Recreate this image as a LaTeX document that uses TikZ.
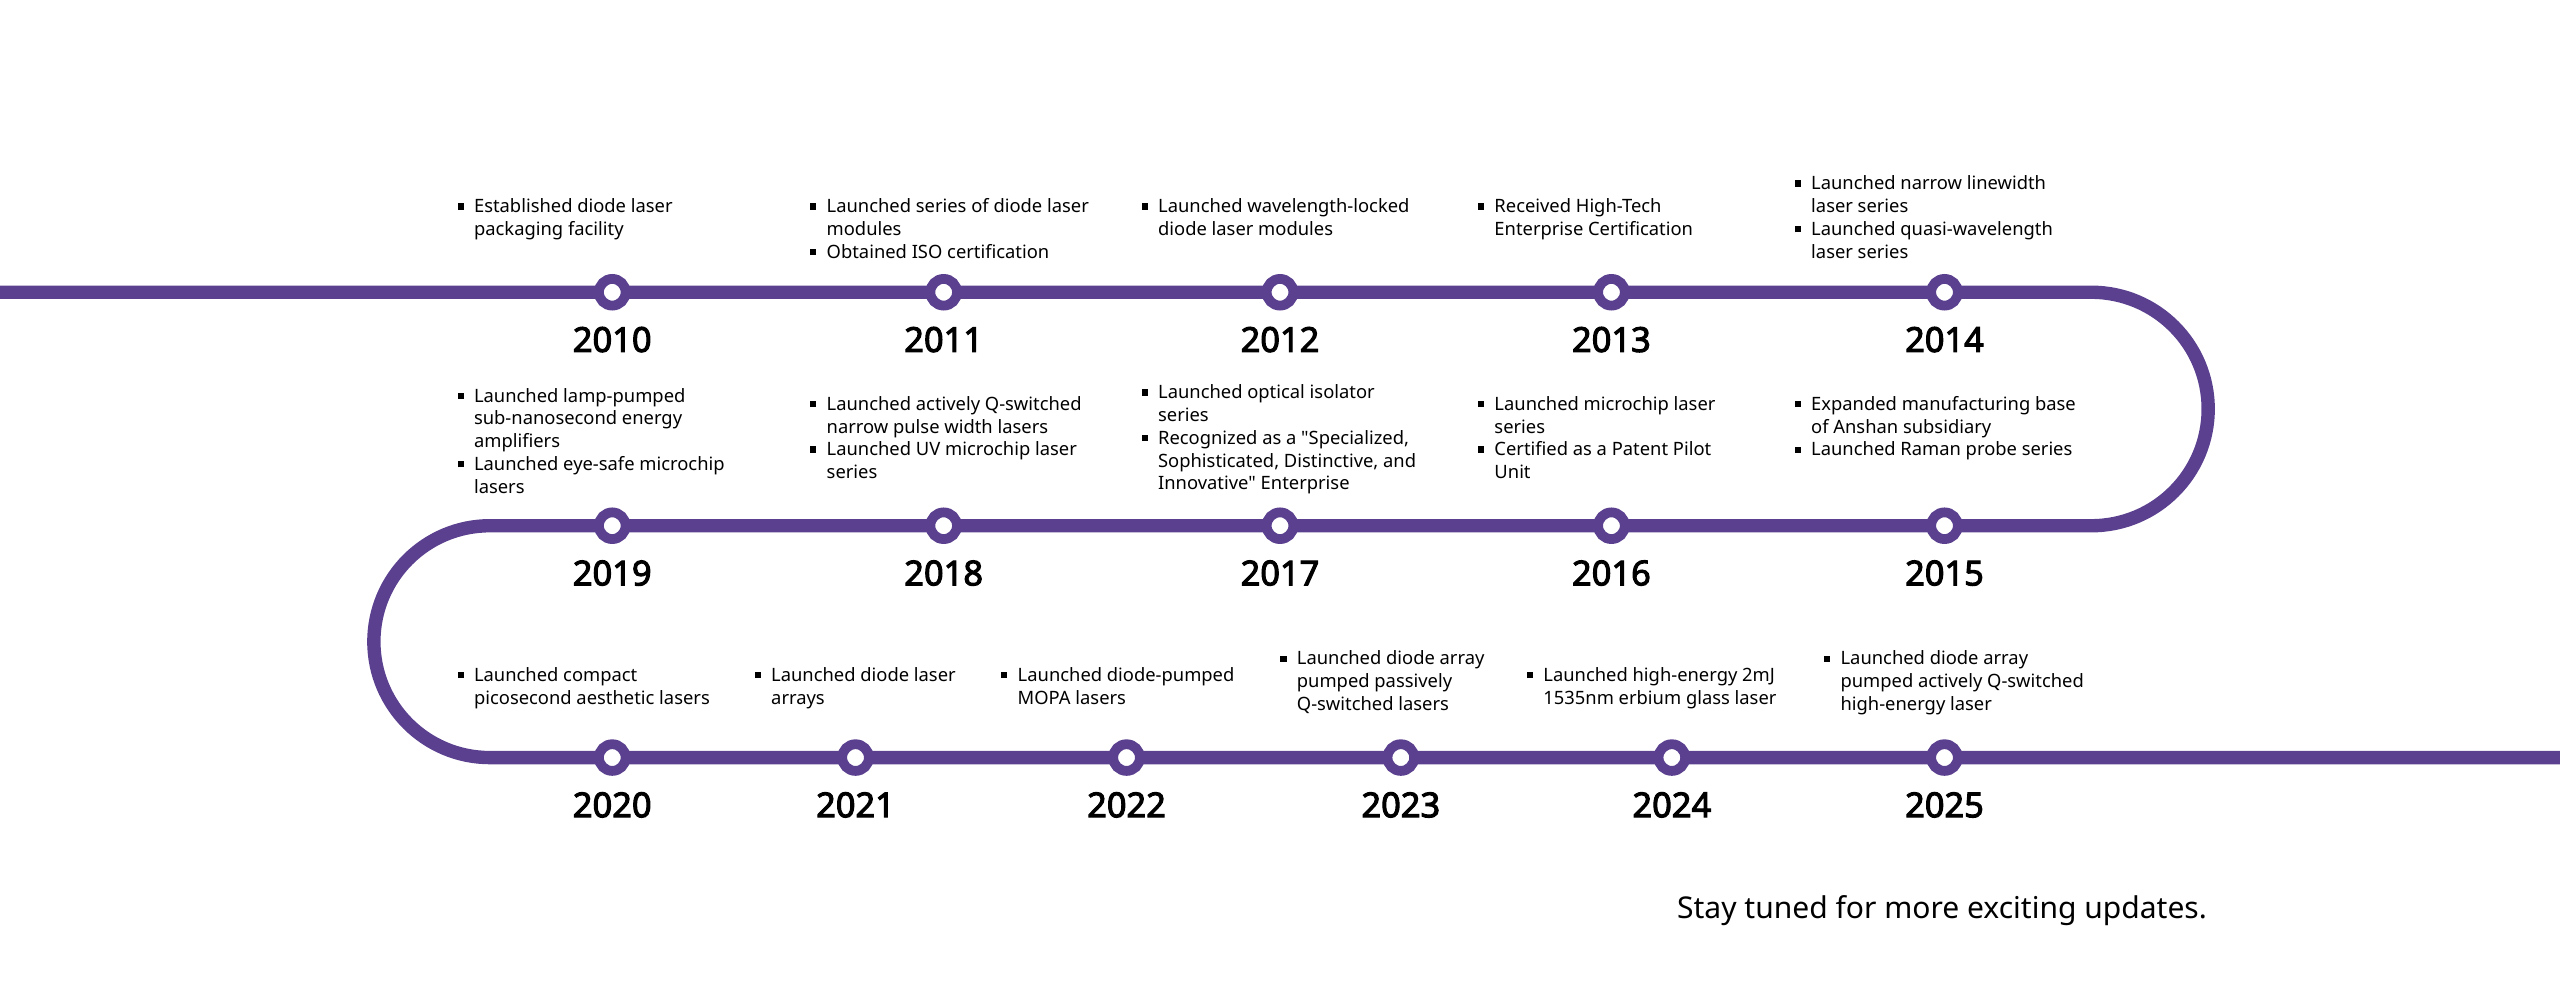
\documentclass[tikz,border=0pt]{standalone}
\usepackage{fontspec}
\setmainfont{Noto Sans}[AutoFakeBold=3]
\newfontfamily\quotefont{Noto Sans}
\definecolor{track}{RGB}{90,64,143}
\tikzset{ring/.style={circle, draw=track, fill=white, line width=0.18cm, minimum size=0.49cm, inner sep=0pt}}
\tikzset{yearlab/.style={font=\fontsize{18}{20}\selectfont\bfseries, inner sep=0pt}}
\tikzset{note/.style={anchor=north west, align=left, inner sep=0pt, font=\fontsize{9.6}{11.9}\selectfont}}
\newcommand{\bx}{\makebox[0.9em][l]{\rule[0.17em]{0.34em}{0.34em}}}
\newcommand{\nx}{\hspace*{0.9em}}
\newcommand{\qq}{{\quotefont"}}

\begin{document}
\begin{tikzpicture}[x=0.03cm,y=-0.03cm]
  \useasboundingbox (0,0) rectangle (1568,606);
  \draw[track, line width=0.246cm]
    (0,179) -- (1281,179) arc (90:-90:2.145cm) -- (300,322)
    arc (90:270:2.13cm) -- (1568,464);
  \foreach \x/\y/\yr in {
    375/179/2010,
    578/179/2011,
    784/179/2012,
    987/179/2013,
    1191/179/2014,
    1191/322/2015,
    987/322/2016,
    784/322/2017,
    578/322/2018,
    375/322/2019,
    375/464/2020,
    524/464/2021,
    690/464/2022,
    858/464/2023,
    1024/464/2024,
    1191/464/2025%
  } {
    \node[ring] (c\yr) at (\x,\y) {};
    \node[yearlab] (t\yr) at (\x,\y+29) {\yr};
  }
  \node[note] (n2010) at (280,121.5) {\bx Established diode laser\\\nx packaging facility};
  \node[note] (n2011) at (496,121.5) {\bx Launched series of diode laser\\\nx modules\\\bx Obtained ISO certification};
  \node[note] (n2012) at (699,121.5) {\bx Launched wavelength-locked\\\nx diode laser modules};
  \node[note] (n2013) at (905,121.5) {\bx Received High-Tech\\\nx Enterprise Certification};
  \node[note] (n2014) at (1099,107.5) {\bx Launched narrow linewidth\\\nx laser series\\\bx Launched quasi-wavelength\\\nx laser series};
  \node[note] (n2019) at (280,237.5) {\bx Launched lamp-pumped\\\nx sub-nanosecond energy\\\nx amplifiers\\\bx Launched eye-safe microchip\\\nx lasers};
  \node[note] (n2018) at (496,242.5) {\bx Launched actively Q-switched\\\nx narrow pulse width lasers\\\bx Launched UV microchip laser\\\nx series};
  \node[note] (n2017) at (699,235.5) {\bx Launched optical isolator\\\nx series\\\bx Recognized as a \qq Specialized,\\\nx Sophisticated, Distinctive, and\\\nx Innovative\qq{} Enterprise};
  \node[note] (n2016) at (905,242.5) {\bx Launched microchip laser\\\nx series\\\bx Certified as a Patent Pilot\\\nx Unit};
  \node[note] (n2015) at (1099,242.5) {\bx Expanded manufacturing base\\\nx of Anshan subsidiary\\\bx Launched Raman probe series};
  \node[note] (n2020) at (280,408.5) {\bx Launched compact\\\nx picosecond aesthetic lasers};
  \node[note] (n2021) at (462,408.5) {\bx Launched diode laser\\\nx arrays};
  \node[note] (n2022) at (613,408.5) {\bx Launched diode-pumped\\\nx MOPA lasers};
  \node[note] (n2023) at (784,398.5) {\bx Launched diode array\\\nx pumped passively\\\nx Q-switched lasers};
  \node[note] (n2024) at (935,408.5) {\bx Launched high-energy 2mJ\\\nx 1535nm erbium glass laser};
  \node[note] (n2025) at (1117,398.5) {\bx Launched diode array\\\nx pumped actively Q-switched\\\nx high-energy laser};
  \node[anchor=west, inner sep=0pt, font=\fontsize{15.7}{18}\selectfont] (stay) at (1027,558) {Stay tuned for more exciting updates.};
\end{tikzpicture}
\end{document}
